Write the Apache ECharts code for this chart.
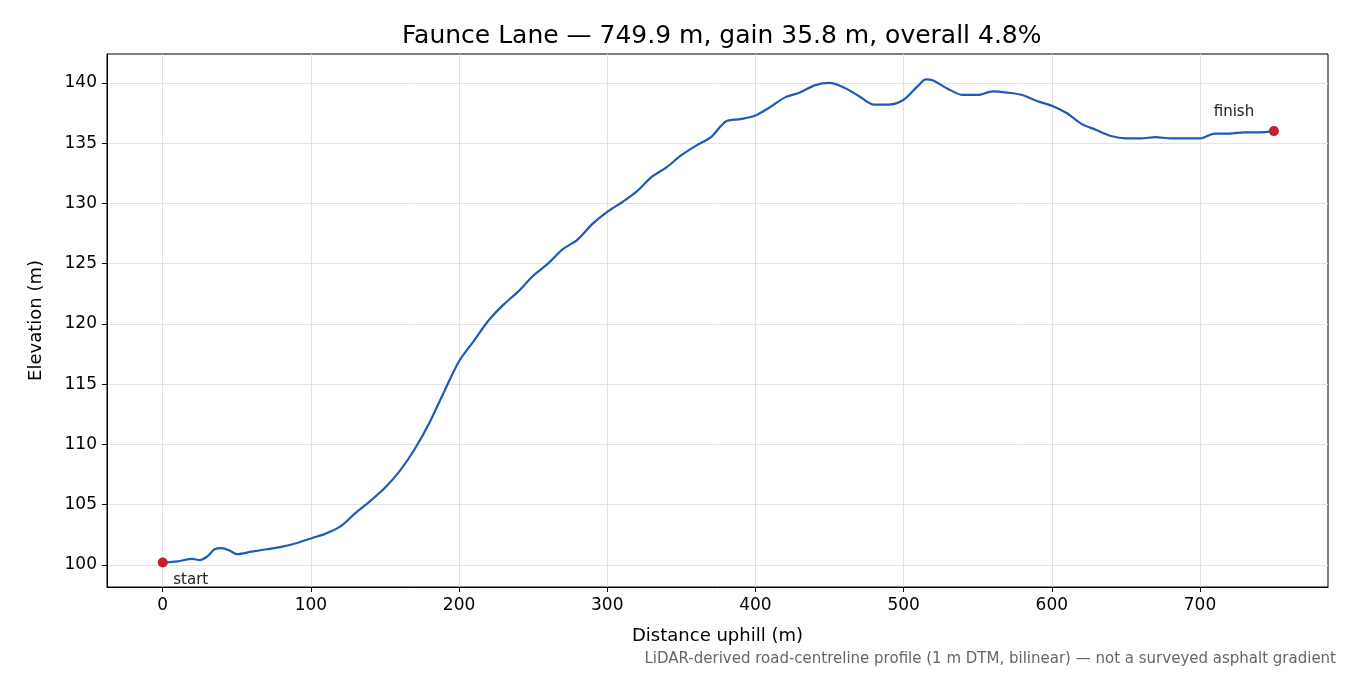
<!DOCTYPE html>
<html><head><meta charset="utf-8">
<script src="https://cdn.jsdelivr.net/npm/echarts@6/dist/echarts.min.js"></script>
<style>html,body{margin:0;padding:0;background:#fff}#c{width:1350px;height:675px}</style>
</head><body><div id="c"></div>
<script>
// profile data (distance m, elevation m)
var dist=[0,10,20,25,30,35,40,45,50,60,70,80,90,100,110,120,130,140,150,160,170,180,190,200,210,220,230,240,250,260,270,280,290,300,310,320,330,340,350,360,370,380,390,400,410,420,430,440,450,460,470,480,490,500,510,515,520,530,540,550,560,570,580,590,600,610,620,630,640,650,660,670,680,690,700,710,720,730,740,749.9];
var elev=[100.2,100.3,100.5,100.4,100.7,101.3,101.4,101.2,100.9,101.1,101.3,101.5,101.8,102.2,102.6,103.2,104.3,105.3,106.4,107.8,109.6,111.8,114.4,116.9,118.6,120.3,121.6,122.7,124.0,125.0,126.2,127.0,128.3,129.3,130.1,131.0,132.2,133.0,134.0,134.8,135.5,136.8,137.0,137.3,138.0,138.8,139.2,139.8,140.0,139.6,138.9,138.2,138.2,138.6,139.8,140.3,140.2,139.5,139.0,139.0,139.3,139.2,139.0,138.5,138.1,137.5,136.6,136.1,135.6,135.4,135.4,135.5,135.4,135.4,135.4,135.8,135.8,135.9,135.9,136.0];
var xTicks=[0,100,200,300,400,500,600,700];
var yTicks=[100,105,110,115,120,125,130,135,140];

var chart=echarts.init(document.getElementById('c'));
var line=dist.map(function(d,i){return [d,elev[i]];});
var n=dist.length-1;
var font='DejaVu Sans';
chart.setOption({
  animation:false,
  title:{text:'Faunce Lane — 749.9 m, gain 35.8 m, overall 4.8%',left:397,top:19,
    textStyle:{fontFamily:font,fontSize:25,fontWeight:'normal',color:'#000'}},
  graphic:[{type:'text',right:14,top:652,style:{text:'LiDAR-derived road-centreline profile (1 m DTM, bilinear) — not a surveyed asphalt gradient',
    fill:'#666',font:'15px DejaVu Sans'}}],
  grid:{left:107,right:22,top:54,bottom:88,show:true,borderColor:'#000',borderWidth:1},
  xAxis:{type:'value',min:-37.6,max:786.4,name:'Distance uphill (m)',nameLocation:'middle',nameGap:40,
    nameTextStyle:{fontFamily:font,fontSize:18,color:'#000'},
    axisLine:{onZero:false,lineStyle:{color:'#000'}},
    axisTick:{show:true,customValues:xTicks,length:5,lineStyle:{color:'#000'}},
    axisLabel:{customValues:xTicks,fontFamily:font,fontSize:17,color:'#000',margin:10},
    splitLine:{show:true,customValues:xTicks,lineStyle:{color:'#e3e3e3'}}},
  yAxis:{type:'value',min:98.17,max:142.4,name:'Elevation (m)',nameLocation:'middle',nameGap:62,
    nameTextStyle:{fontFamily:font,fontSize:18,color:'#000'},
    axisLine:{show:true,onZero:false,lineStyle:{color:'#000'}},
    axisTick:{show:true,customValues:yTicks,length:5,lineStyle:{color:'#000'}},
    axisLabel:{customValues:yTicks,fontFamily:font,fontSize:17,color:'#000',margin:10},
    splitLine:{show:true,customValues:yTicks,lineStyle:{color:'#e3e3e3'}}},
  series:[
    {type:'line',data:line,showSymbol:false,smooth:0.3,lineStyle:{color:'#1f5bb5',width:2.2},z:2},
    {type:'scatter',symbolSize:10,itemStyle:{color:'#c81e2a',opacity:1},z:3,
      data:[
        {value:[dist[0],elev[0]],label:{show:true,formatter:'start',position:'bottom',offset:[28,0],fontFamily:font,fontSize:15,color:'#222'}},
        {value:[dist[n],elev[n]],label:{show:true,formatter:'finish',position:'top',offset:[-40,-2],fontFamily:font,fontSize:15,color:'#222'}}
      ]}
  ]
});
</script></body></html>
